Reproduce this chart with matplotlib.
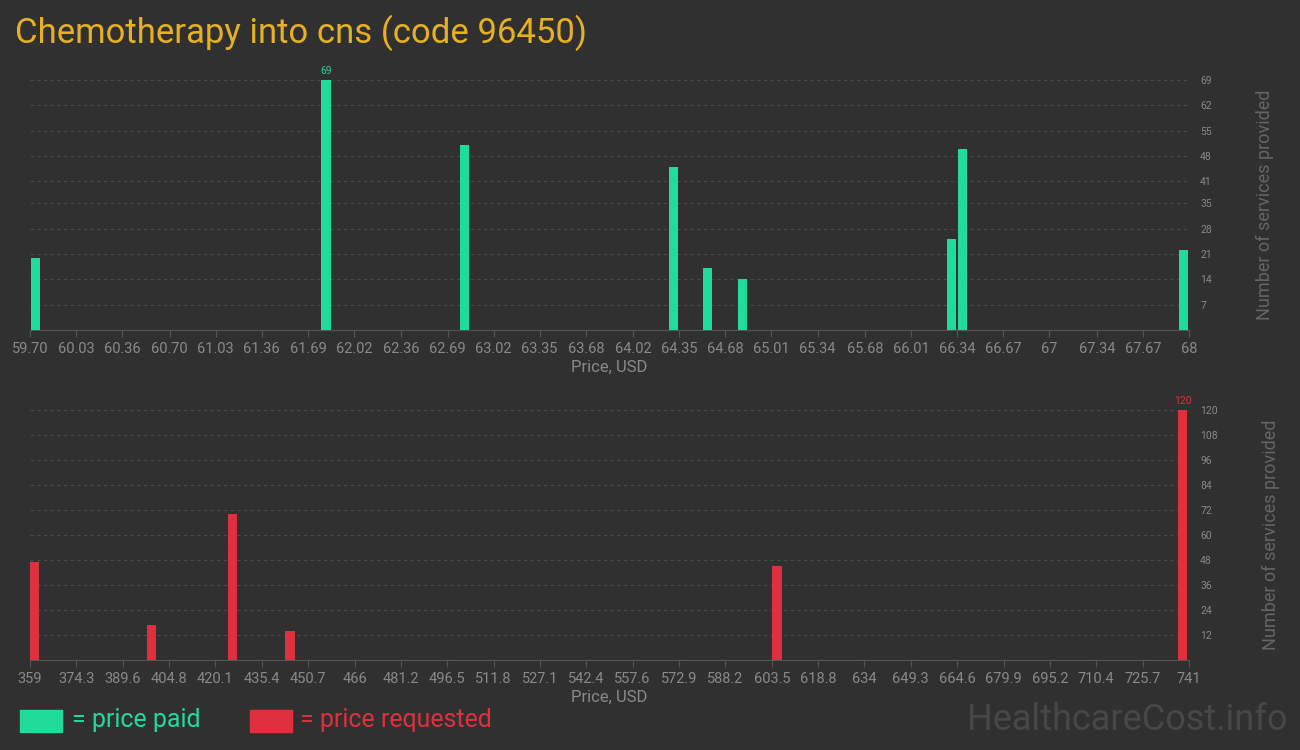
import matplotlib
matplotlib.use("Agg")
import matplotlib.pyplot as plt
from matplotlib import font_manager

fams = {f.name for f in font_manager.fontManager.ttflist}
FONT = "Liberation Sans Narrow" if "Liberation Sans Narrow" in fams else "Roboto"
plt.rcParams["font.family"] = FONT

paid_x = [59.74, 61.82, 62.81, 64.31, 64.55, 64.80, 66.30, 66.38, 67.96]
paid_y = [20, 69, 51, 45, 17, 14, 25, 50, 22]
paid_ticks = [59.70, 60.03, 60.36, 60.70, 61.03, 61.36, 61.69, 62.02, 62.36, 62.69, 63.02,
              63.35, 63.68, 64.02, 64.35, 64.68, 65.01, 65.34, 65.68, 66.01, 66.34, 66.67,
              67, 67.34, 67.67, 68]
paid_tick_labels = ["59.70", "60.03", "60.36", "60.70", "61.03", "61.36", "61.69", "62.02",
                    "62.36", "62.69", "63.02", "63.35", "63.68", "64.02", "64.35", "64.68",
                    "65.01", "65.34", "65.68", "66.01", "66.34", "66.67", "67", "67.34",
                    "67.67", "68"]
paid_yticks = [7, 14, 21, 28, 35, 41, 48, 55, 62, 69]

req_x = [360.6, 398.9, 425.6, 444.7, 605.2, 739.0]
req_y = [47, 17, 70, 14, 45, 120]
req_ticks = [359, 374.3, 389.6, 404.8, 420.1, 435.4, 450.7, 466, 481.2, 496.5, 511.8, 527.1,
             542.4, 557.6, 572.9, 588.2, 603.5, 618.8, 634, 649.3, 664.6, 679.9, 695.2,
             710.4, 725.7, 741]
req_yticks = [12, 24, 36, 48, 60, 72, 84, 96, 108, 120]

BG = "#303030"
GREEN = "#20dc9b"
RED = "#e0303f"
GRAY = "#8a8a8a"

fig = plt.figure(figsize=(13, 7.5), dpi=100, facecolor=BG)

def panel(rect, xs, ys, color, xlim, ylim, ticks, labels, yticks, bw, maxlabel):
    ax = fig.add_axes(rect, facecolor=BG)
    ax.bar(xs, ys, width=bw, color=color, zorder=3)
    ax.set_xlim(*xlim)
    ax.set_ylim(*ylim)
    ax.set_xticks(ticks)
    ax.set_xticklabels(labels, fontsize=10.5, color=GRAY)
    ax.yaxis.tick_right()
    ax.set_yticks(yticks)
    ax.set_yticklabels([str(t) for t in yticks], fontsize=7.5, color=GRAY)
    ax.yaxis.set_label_position("right")
    ax.set_ylabel("Number of services provided", fontsize=13, color="#666666", labelpad=32)
    ax.set_xlabel("Price, USD", fontsize=12, color=GRAY, labelpad=3)
    ax.grid(axis="y", color="#4a4a4a", linestyle=(0, (3, 3)), linewidth=0.8, zorder=0)
    for s in ["top", "left", "right"]:
        ax.spines[s].set_visible(False)
    ax.spines["bottom"].set_color("#555555")
    ax.tick_params(axis="x", color="#555555", length=5)
    ax.tick_params(axis="y", length=0, pad=8)
    i = ys.index(max(ys))
    ax.text(xs[i], ys[i] + ylim[1] * 0.015, str(maxlabel), color=color, fontsize=7.5,
            ha="center", va="bottom")
    return ax

panel([30/1300, 420/750, 1159/1300, 250/750], paid_x, paid_y, GREEN,
      (59.7, 68), (0, 69), paid_ticks, paid_tick_labels, paid_yticks, 0.065, 69)
panel([30/1300, 90/750, 1159/1300, 250/750], req_x, req_y, RED,
      (359, 741), (0, 120), req_ticks, [str(t) for t in req_ticks], req_yticks, 3.0, 120)

fig.text(15/1300, 1 - 33/750, "Chemotherapy into cns (code 96450)", color="#e6b020",
         fontsize=25, va="center", ha="left")

fig.patches.append(plt.Rectangle((20/1300, 1 - 732/750), 42/1300, 22/750,
                                 transform=fig.transFigure, color=GREEN))
fig.text(72/1300, 1 - 720/750, "= price paid", color=GREEN, fontsize=18, va="center")
fig.patches.append(plt.Rectangle((250/1300, 1 - 732/750), 42/1300, 22/750,
                                 transform=fig.transFigure, color=RED))
fig.text(300/1300, 1 - 720/750, "= price requested", color=RED, fontsize=18, va="center")
fig.text(1288/1300, 1 - 720/750, "HealthcareCost.info", color="#474747", fontsize=26,
         va="center", ha="right")

fig.savefig("out.png", facecolor=BG)
